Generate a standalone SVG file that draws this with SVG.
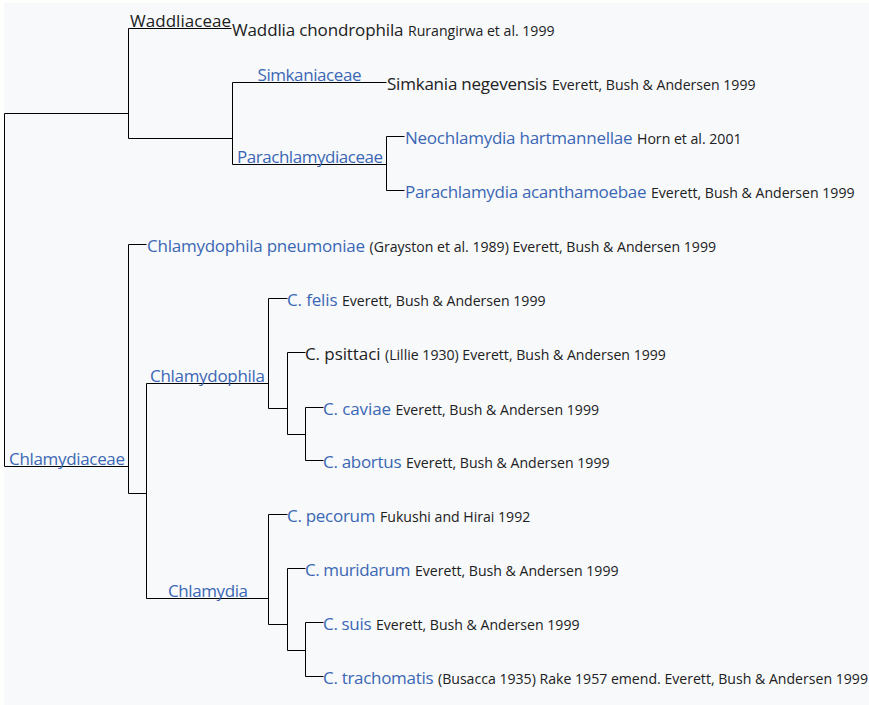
<svg xmlns="http://www.w3.org/2000/svg" width="869" height="705" viewBox="0 0 869 705">
<style>
  text { font-family: "Open Sans", "Noto Sans", "Liberation Sans", sans-serif; }
  .sp { font-size: 17px; }
  .au { font-size: 14.1px; fill: #202122; }
  .lb { font-size: 17px; text-anchor: middle; }
  .blue { fill: #3a67b5; }
  .blk { fill: #202122; }
  .br { fill: none; stroke: #000; stroke-width: 1; }
</style>
<rect x="0" y="0" width="869" height="705" fill="#fffffe"/>
<rect x="4" y="3" width="865" height="702" fill="#f8f9fa"/>
<g id="connectors" class="br">
  <path d="M128.5,113.5 H4.5 V466.5 H128.5"/>
  <path d="M231.5,28.5 H128.5 V138.5 H232.5"/>
  <path d="M386.5,82.5 H232.5 V164.5 H386.5"/>
  <path d="M404.5,136.5 H386.5 V190.5 H404.5"/>
  <path d="M146.5,244.5 H128.5 V493.5 H146.5"/>
  <path d="M268.5,383.5 H146.5 V598.5 H268.5"/>
  <path d="M287.5,298.5 H268.5 V408.5 H287.5"/>
  <path d="M305.5,352.5 H287.5 V434.5 H305.5"/>
  <path d="M323.5,407.5 H305.5 V460.5 H323.5"/>
  <path d="M287.5,514.5 H268.5 V624.5 H287.5"/>
  <path d="M305.5,568.5 H287.5 V650.5 H305.5"/>
  <path d="M323.5,622.5 H305.5 V676.5 H323.5"/>
</g>
<g id="clade-labels">
  <text id="Waddliaceae" class="lb blk" x="180.5" y="26.5" textLength="101">Waddliaceae</text>
  <text id="Simkaniaceae" class="lb blue" x="309.5" y="80.5" textLength="104">Simkaniaceae</text>
  <text id="Parachlamydiaceae" class="lb blue" x="310" y="162.5" textLength="146">Parachlamydiaceae</text>
  <text id="Chlamydiaceae" class="lb blue" x="67" y="464.5" textLength="116">Chlamydiaceae</text>
  <text id="Chlamydophila" class="lb blue" x="207.5" y="381.5" textLength="115">Chlamydophila</text>
  <text id="Chlamydia" class="lb blue" x="208" y="597" textLength="80">Chlamydia</text>
</g>
<g id="waddlia"><text class="sp blk" x="232" y="35.5" textLength="171.5">Waddlia chondrophila</text><text class="au" x="408" y="35.5">Rurangirwa et al. 1999</text></g>
<g id="simkania"><text class="sp blk" x="387" y="89.5" textLength="160">Simkania negevensis</text><text class="au" x="552" y="89.5">Everett, Bush &amp; Andersen 1999</text></g>
<g id="neochlamydia"><text class="sp blue" x="405" y="143.5" textLength="227.5">Neochlamydia hartmannellae</text><text class="au" x="637" y="143.5">Horn et al. 2001</text></g>
<g id="parachlamydia"><text class="sp blue" x="405" y="197.5" textLength="241.5">Parachlamydia acanthamoebae</text><text class="au" x="651" y="197.5">Everett, Bush &amp; Andersen 1999</text></g>
<g id="pneumoniae"><text class="sp blue" x="147" y="251.5" textLength="218">Chlamydophila pneumoniae</text><text class="au" x="369.5" y="251.5">(Grayston et al. 1989) Everett, Bush &amp; Andersen 1999</text></g>
<g id="felis"><text class="sp blue" x="287" y="305.5" textLength="50.5">C. felis</text><text class="au" x="342" y="305.5">Everett, Bush &amp; Andersen 1999</text></g>
<g id="psittaci"><text class="sp blk" x="305" y="359.5" textLength="75.5">C. psittaci</text><text class="au" x="385" y="359.5">(Lillie 1930) Everett, Bush &amp; Andersen 1999</text></g>
<g id="caviae"><text class="sp blue" x="323" y="414.5" textLength="68">C. caviae</text><text class="au" x="395.5" y="414.5">Everett, Bush &amp; Andersen 1999</text></g>
<g id="abortus"><text class="sp blue" x="323" y="467.5" textLength="78.5">C. abortus</text><text class="au" x="406" y="467.5">Everett, Bush &amp; Andersen 1999</text></g>
<g id="pecorum"><text class="sp blue" x="287" y="521.5" textLength="88.5">C. pecorum</text><text class="au" x="380" y="521.5">Fukushi and Hirai 1992</text></g>
<g id="muridarum"><text class="sp blue" x="305" y="575.5" textLength="105.5">C. muridarum</text><text class="au" x="415" y="575.5">Everett, Bush &amp; Andersen 1999</text></g>
<g id="suis"><text class="sp blue" x="323" y="629.5" textLength="48.5">C. suis</text><text class="au" x="376" y="629.5">Everett, Bush &amp; Andersen 1999</text></g>
<g id="trachomatis"><text class="sp blue" x="323" y="683.5" textLength="110.5">C. trachomatis</text><text class="au" x="438" y="683.5">(Busacca 1935) Rake 1957 emend. Everett, Bush &amp; Andersen 1999</text></g>
</svg>
